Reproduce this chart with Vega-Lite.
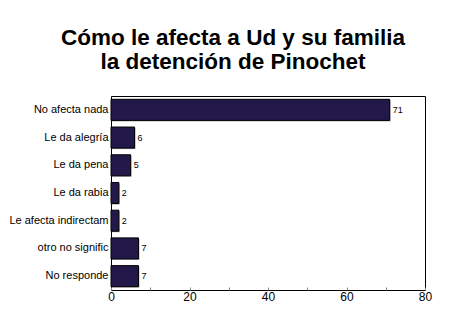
{
  "$schema": "https://vega.github.io/schema/vega-lite/v6.json",
  "width": 314,
  "height": 194,
  "autosize": "none",
  "padding": {"left": 111, "top": 96, "right": 25, "bottom": 28},
  "background": "white",
  "title": {
    "text": ["Cómo le afecta a Ud y su familia", "la detención de Pinochet"],
    "font": "Liberation Sans",
    "fontSize": 22.5,
    "fontWeight": "bold",
    "lineHeight": 24,
    "color": "black",
    "anchor": "middle",
    "dx": -35,
    "offset": 23
  },
  "config": {
    "view": {"stroke": "black", "strokeWidth": 1},
    "axis": {"labelFont": "Liberation Sans", "labelColor": "black", "grid": false, "domainColor": "black"}
  },
  "data": {
    "values": [
      {"cat": "No afecta nada", "v": 71},
      {"cat": "Le da alegría", "v": 6},
      {"cat": "Le da pena", "v": 5},
      {"cat": "Le da rabia", "v": 2},
      {"cat": "Le afecta indirectam", "v": 2},
      {"cat": "otro no signific", "v": 7},
      {"cat": "No responde", "v": 7}
    ]
  },
  "encoding": {
    "y": {
      "field": "cat", "type": "nominal", "sort": null, "title": null,
      "scale": {"paddingInner": 0.24, "paddingOuter": 0.12},
      "axis": {"labelFontSize": 11, "ticks": false, "domain": false, "labelPadding": 3}
    },
    "x": {
      "field": "v", "type": "quantitative", "title": null,
      "scale": {"domain": [0, 80], "nice": false},
      "axis": {
        "values": [0, 10, 20, 30, 40, 50, 60, 70, 80],
        "labelExpr": "datum.value % 20 == 0 ? datum.label : ''",
        "labelFontSize": 12, "tickSize": -3, "tickColor": "#888", "domain": false, "labelPadding": 4,
        "labelFlush": false
      }
    }
  },
  "layer": [
    {"mark": {"type": "bar", "color": "#b0b0b0", "xOffset": 1, "yOffset": 1}},
    {"mark": {"type": "bar", "color": "#22184a", "stroke": "black", "strokeWidth": 1}},
    {
      "mark": {"type": "text", "align": "left", "dx": 3, "fontSize": 9, "font": "Liberation Sans", "color": "black"},
      "encoding": {"text": {"field": "v", "type": "quantitative"}}
    }
  ]
}
